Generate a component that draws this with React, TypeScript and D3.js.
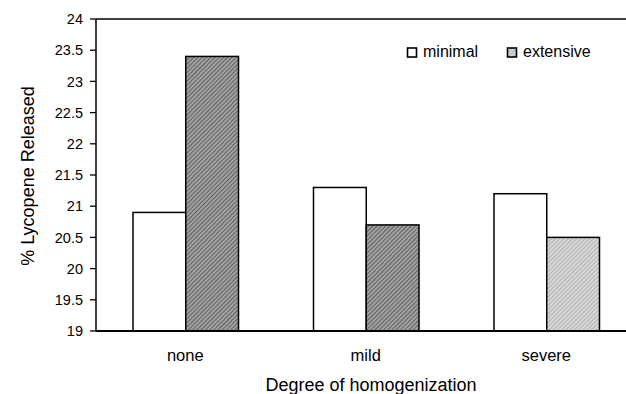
import React from 'react';
import * as d3 from 'd3';

const categories = ['none', 'mild', 'severe'];
const seriesNames = ['minimal', 'extensive'];
const minimalValues = [20.9, 21.3, 21.2];
const extensiveValues = [23.4, 20.7, 20.5];
const yTickValues = [19, 19.5, 20, 20.5, 21, 21.5, 22, 22.5, 23, 23.5, 24];

const width = 626;
const height = 394;
// plot area runs past the right edge of the picture (it was cropped)
const margin = { t: 19, b: 63, l: 96 };
const plotRight = 637.5;
const font = 'Liberation Sans, Arial, sans-serif';

export default function App() {
  const x = d3.scaleBand().domain(categories).range([margin.l, plotRight]).padding(0);
  const inner = d3.scaleBand().domain(seriesNames).range([37, x.bandwidth() - 38]).padding(0);
  const y = d3.scaleLinear().domain([19, 24]).range([height - margin.b, margin.t]);
  const fmt = (d: number) => d3.format('')(d);

  const fills = ['url(#hatchDark)', 'url(#hatchDark)', 'url(#stipple)'];

  return (
    <svg width={width} height={height} style={{ position: 'absolute', left: 0, top: 0, background: '#fff' }}>
      <defs>
        <pattern id="hatchDark" width="3" height="3" patternUnits="userSpaceOnUse" patternTransform="rotate(45)">
          <rect width="3" height="3" fill="#a0a0a0" />
          <line x1="0" y1="0" x2="0" y2="3" stroke="#3a3a3a" strokeWidth="1.2" />
        </pattern>
        <pattern id="stipple" width="3" height="3" patternUnits="userSpaceOnUse" patternTransform="rotate(45)">
          <rect width="3" height="3" fill="#d6d6d6" />
          <line x1="0" y1="0" x2="0" y2="3" stroke="#8e8e8e" strokeWidth="0.9" />
        </pattern>
      </defs>

      {/* frame top + axes */}
      <line x1={margin.l} x2={plotRight} y1={margin.t} y2={margin.t} stroke="#000" strokeWidth={1.5} />
      <line x1={margin.l} x2={margin.l} y1={margin.t} y2={height - margin.b} stroke="#000" strokeWidth={1.5} />

      {/* bars */}
      {categories.map((c, i) => (
        <g key={c}>
          <rect x={x(c)! + inner('minimal')!} y={y(minimalValues[i])}
            width={inner.bandwidth()} height={y(19) - y(minimalValues[i])}
            fill="#fff" stroke="#000" strokeWidth={1.5} />
          <rect x={x(c)! + inner('extensive')!} y={y(extensiveValues[i])}
            width={inner.bandwidth()} height={y(19) - y(extensiveValues[i])}
            fill={fills[i]} stroke="#000" strokeWidth={1.5} />
        </g>
      ))}

      <line x1={margin.l} x2={plotRight} y1={height - margin.b} y2={height - margin.b} stroke="#000" strokeWidth={1.8} />

      {/* y ticks */}
      {yTickValues.map(d => (
        <g key={d} transform={`translate(${margin.l},${y(d)})`}>
          <line x1={-6} x2={0} stroke="#000" strokeWidth={1.3} />
          <text x={-13} dy="0.36em" textAnchor="end" fontFamily={font} fontSize={14.5} fill="#000">{fmt(d)}</text>
        </g>
      ))}

      {/* x labels */}
      {categories.map(c => (
        <text key={c} x={x(c)! + x.bandwidth() / 2 - 1} y={361} textAnchor="middle" fontFamily={font} fontSize={16.5} fill="#000">{c}</text>
      ))}

      <text x={371} y={391} textAnchor="middle" fontFamily={font} fontSize={18} fill="#000">Degree of homogenization</text>
      <text transform={`translate(34,176) rotate(-90)`} textAnchor="middle"
        fontFamily={font} fontSize={18} fill="#000">% Lycopene Released</text>

      {/* legend */}
      <g fontFamily={font} fontSize={16} fill="#000">
        <rect x={407.5} y={48} width={9} height={9} fill="#fff" stroke="#000" strokeWidth={1.6} />
        <text x={423} y={57}>{seriesNames[0]}</text>
        <rect x={507.5} y={48} width={9} height={9} fill="url(#stipple)" stroke="#000" strokeWidth={1.6} />
        <text x={523} y={57}>{seriesNames[1]}</text>
      </g>
    </svg>
  );
}
